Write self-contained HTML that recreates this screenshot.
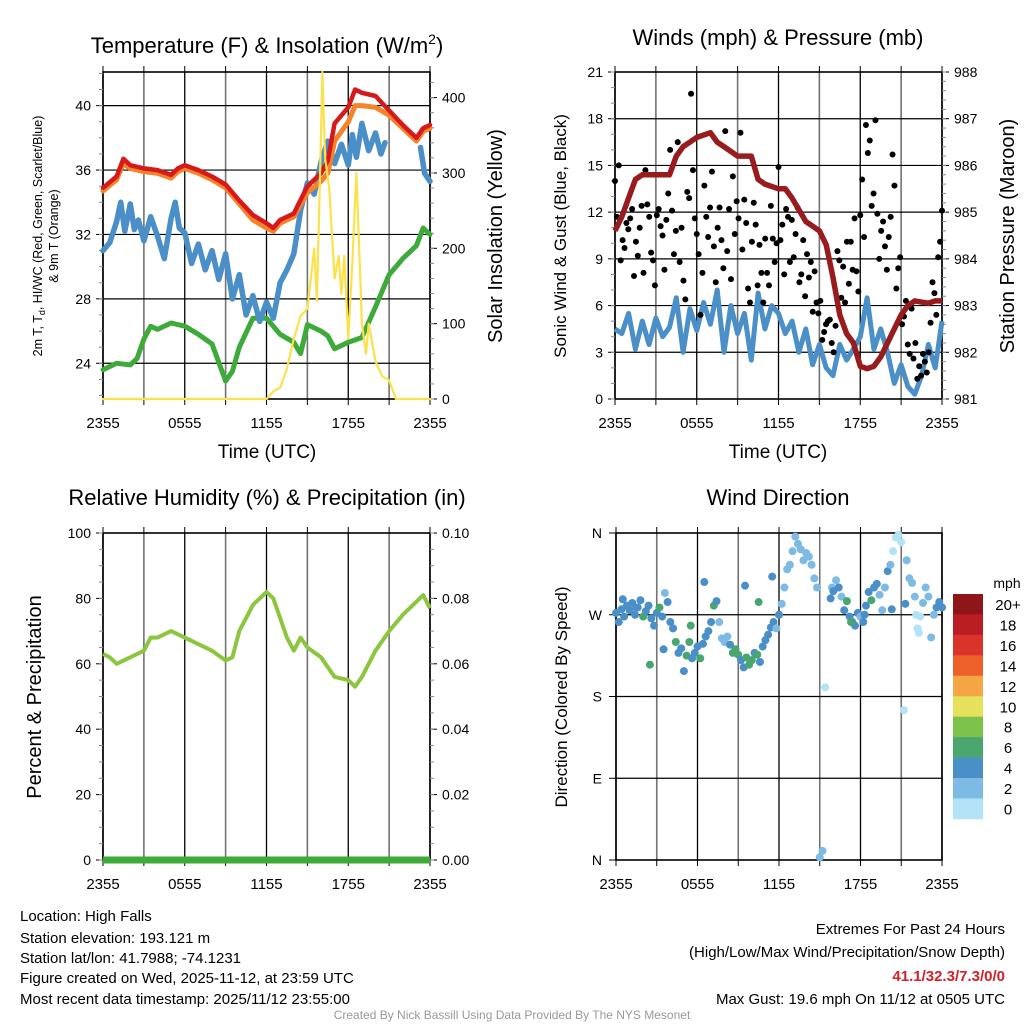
<!DOCTYPE html>
<html><head><meta charset="utf-8"><style>
html,body{margin:0;padding:0;background:#fff;}
svg{display:block;font-family:"Liberation Sans",Arial,sans-serif;}
</style></head><body>
<svg id="c" width="1024" height="1024" viewBox="0 0 1024 1024" xmlns="http://www.w3.org/2000/svg">
<rect width="1024" height="1024" fill="#fff"/>
<g id="g1"></g>
<g id="g2"></g>
<g id="g3"></g>
<g id="g4"></g>
<text x="267" y="53" font-size="22" text-anchor="middle">Temperature (F) &amp; Insolation (W/m<tspan dy="-9" font-size="14">2</tspan><tspan dy="9">)</tspan></text>
<text x="778" y="45" font-size="22" text-anchor="middle">Winds (mph) &amp; Pressure (mb)</text>
<text x="267" y="505" font-size="22" text-anchor="middle">Relative Humidity (%) &amp; Precipitation (in)</text>
<text x="778" y="505" font-size="22" text-anchor="middle">Wind Direction</text>
<text transform="translate(42,236) rotate(-90)" font-size="12.5" text-anchor="middle">2m T, T<tspan dy="3" font-size="9">d</tspan><tspan dy="-3">, HI/WC (Red, Green, Scarlet/Blue)</tspan></text>
<text transform="translate(58,236) rotate(-90)" font-size="12.5" text-anchor="middle">&amp; 9m T (Orange)</text>
<text transform="translate(502,236) rotate(-90)" font-size="20" text-anchor="middle">Solar Insolation (Yellow)</text>
<text transform="translate(566,236) rotate(-90)" font-size="17" text-anchor="middle">Sonic Wind &amp; Gust (Blue, Black)</text>
<text transform="translate(1014,236) rotate(-90)" font-size="20" text-anchor="middle">Station Pressure (Maroon)</text>
<text transform="translate(41,697) rotate(-90)" font-size="20" text-anchor="middle">Percent &amp; Precipitation</text>
<text transform="translate(567,697) rotate(-90)" font-size="17" text-anchor="middle">Direction (Colored By Speed)</text>
<text x="267" y="458" font-size="19" text-anchor="middle">Time (UTC)</text>
<text x="778" y="458" font-size="19" text-anchor="middle">Time (UTC)</text>
<g font-size="15">
<text x="20" y="921">Location: High Falls</text>
<text x="20" y="943">Station elevation: 193.121 m</text>
<text x="20" y="963">Station lat/lon: 41.7988; -74.1231</text>
<text x="20" y="983">Figure created on Wed, 2025-11-12, at 23:59 UTC</text>
<text x="20" y="1004">Most recent data timestamp: 2025/11/12 23:55:00</text>
</g>
<g font-size="15" text-anchor="end">
<text x="1005" y="934">Extremes For Past 24 Hours</text>
<text x="1005" y="957">(High/Low/Max Wind/Precipitation/Snow Depth)</text>
<text x="1005" y="981" fill="#d42027" font-weight="bold">41.1/32.3/7.3/0/0</text>
<text x="1005" y="1004">Max Gust: 19.6 mph On 11/12 at 0505 UTC</text>
</g>
<text x="512" y="1019" font-size="12" fill="#999" text-anchor="middle">Created By Nick Bassill Using Data Provided By The NYS Mesonet</text>
</svg>
<script>
// ---- data ----
const xTickLabels=["2355","0555","1155","1755","2355"];
const tempHours=[0,1,1.5,2,3,4,5,5.5,6,7,8,9,10,11,12,12.5,13,14,15,16,16.5,17,18,18.5,19,20,21,22,23,23.5,24];
const tempRed=[34.9,35.6,36.7,36.3,36.1,36.0,35.7,36.1,36.3,36.0,35.6,35.1,34.1,33.2,32.7,32.4,32.9,33.3,35.0,35.8,36.6,38.9,39.9,41.0,40.8,40.6,39.7,38.8,38.0,38.6,38.8];
const temp9m=[34.7,35.4,36.4,36.1,35.9,35.8,35.5,35.9,36.1,35.8,35.4,34.9,33.9,32.9,32.4,32.2,32.7,33.1,34.6,35.3,35.8,37.8,39.0,40.0,40.0,39.9,39.4,38.6,37.8,38.4,38.6];
const wcHours=[0,0.5,1,1.3,1.6,2,2.3,2.6,3,3.5,4,4.5,5,5.3,5.6,6,6.5,7,7.5,8,8.5,9,9.5,10,10.5,11,11.5,12,12.5,13,13.5,14,14.5,15,15.5,16,16.5,17,17.5,18,18.3,18.6,19,19.5,20,20.4,20.7,null,23.3,23.6,24];
const windChill=[31.0,31.5,32.8,34.0,32.2,33.9,32.3,32.9,31.6,33.1,31.9,30.5,33.0,34.0,32.4,32.1,30.2,31.4,29.8,31.0,29.2,30.8,28.0,29.5,27.0,28.2,26.6,27.8,26.8,29.0,29.8,30.8,33.5,35.2,34.5,36.5,37.8,36.4,37.6,36.3,38.2,36.8,38.9,37.2,38.3,37.0,37.7,null,37.4,35.8,35.3];
const dewHours=[0,1,2,2.5,3,3.5,4,5,6,7,8,9,9.5,10,11,12,12.5,13,14,14.5,15,16,16.5,17,18,19,20,21,22,23,23.5,24];
const dewpoint=[23.6,24.0,23.9,24.3,25.5,26.3,26.1,26.5,26.3,25.8,25.2,22.9,23.5,25.0,26.8,26.8,26.3,25.8,25.3,24.6,26.4,26.0,25.7,24.9,25.3,25.6,27.5,29.5,30.5,31.3,32.4,32.0];
const solarHours=[0,12,12.5,13,13.5,14,14.5,15,15.5,15.7,16,16.1,16.3,16.6,17,17.3,17.5,17.7,18,18.3,18.6,18.8,19,19.3,19.5,20,20.5,21,21.5,24];
const solar=[0,0,10,15,40,80,110,120,200,130,350,434,320,280,160,190,140,190,80,180,300,200,100,60,100,50,30,25,0,0];
const presHours=[0,0.5,1,1.5,2,3,4,4.5,5,5.5,6,7,7.5,8,9,10,10.5,11,12,12.5,13,14,15,15.5,16,16.5,17,17.5,18,18.5,19,19.5,20,20.5,21,21.5,22,23,23.5,24];
const pressure=[984.6,984.9,985.3,985.7,985.8,985.8,985.8,986.2,986.4,986.5,986.6,986.7,986.5,986.4,986.2,986.2,985.7,985.6,985.5,985.5,985.3,984.8,984.6,984.3,983.6,982.8,982.4,982.2,981.7,981.65,981.7,981.9,982.2,982.5,982.8,983.0,983.1,983.05,983.1,983.1];
const windHours=[0,0.5,1,1.5,2,2.5,3,3.5,4,4.5,5,5.5,6,6.5,7,7.5,8,8.5,9,9.5,10,10.5,11,11.5,12,12.5,13,13.5,14,14.5,15,15.5,16,16.5,17,17.5,18,18.5,19,19.5,20,20.5,21,21.5,22,22.5,23,23.5,24];
const windSpeed=[4.5,4.2,5.5,3.2,5.0,3.5,5.2,4.0,4.6,6.5,3.0,5.8,4.4,6.2,4.8,7.0,3.0,6.0,4.2,5.5,2.5,6.8,4.5,6.0,5.5,4.2,5.0,3.0,4.5,2.2,3.5,2.0,1.5,3.5,2.5,3.2,4.0,6.5,3.2,4.5,3.0,1.0,2.2,0.8,0.3,1.5,3.5,2.0,5.0];
// gusts evenly spaced through the 24 h
const gusts=[14,11.7,15,8.9,10.2,9.7,11.3,10.9,11.6,12.2,7.9,10.1,9.2,11,12.4,8.1,14.7,12.5,11.7,9.4,8.9,7.3,11.8,12.2,11.1,10.5,8.3,11.5,13.2,16,12.1,9.3,10.8,16.5,8.8,11,7.6,6.4,13.3,12.9,19.6,14.7,11.6,10.6,9.3,5.4,8.1,13.7,11.7,10.4,12.3,14.6,9.8,7.5,11.0,12.3,10.2,8.4,17.2,9.5,12.2,7.7,14.3,10.6,12.7,11.6,17.1,9.6,12.8,11.3,7.1,6.2,10.1,12.6,11.2,7.3,9.9,8.1,6.2,10.3,8.1,7.3,12.4,10.3,8.8,10.0,14.9,10.2,11.2,8.0,12.2,11.7,8.8,11.5,9.1,10.6,12.3,7.5,8.0,10.2,6.6,9.3,7.8,8.8,5.6,8.2,6.2,5.5,6.3,3.8,4.3,4.8,5.0,5.1,3.6,3.0,4.7,9.5,8.9,6.5,8.5,6.2,10.1,7.4,10.1,8.3,11.6,8.2,6.9,11.8,14.1,10.4,17.6,15.8,16.6,12.4,13.2,17.9,11.9,9.0,10.8,11.4,9.8,8.3,10.4,11.7,15.7,13.7,7.1,8.4,9.1,4.8,5.3,6.3,3.5,2.9,5.8,2.6,3.6,1.3,2.1,1.5,2.9,2.4,1.7,3.0,4.9,7.5,6.8,5.4,9.1,10.1,12.1];
const rhHours=[0,0.5,1,2,3,3.5,4,5,6,7,8,9,9.5,10,11,11.5,12,12.5,13,13.5,14,14.5,15,16,17,18,18.5,19,20,21,22,23,23.5,24];
const humidity=[63,62,60,62,64,68,68,70,68,66,64,61,62,70,78,80,82,80,74,68,64,68,65,62,56,55,53,56,64,70,75,79,81,77];
const precipHours=[0,24];
const precip=[0,0];
const dirHours=[0,0.2,0.4,0.6,0.8,1,1.2,1.4,1.6,1.8,2,2.2,2.4,2.6,2.8,3,3.2,3.4,3.6,3.8,4,4.2,4.4,4.6,4.8,5,5.2,5.4,5.6,5.8,6,6.2,6.4,6.6,6.8,7,7.2,7.4,7.6,7.8,8,8.2,8.4,8.6,8.8,9,9.2,9.4,9.6,9.8,10,10.2,10.4,10.6,10.8,11,11.2,11.4,11.6,11.8,12,12.2,12.4,12.6,12.8,13,13.2,13.4,13.6,13.8,14,14.2,14.4,14.6,14.8,15,15.2,15.4,15.8,15.9,16,16.2,16.4,16.6,16.8,17,17.2,17.4,17.6,17.8,18,18.2,18.4,18.6,18.8,19,19.2,19.4,19.6,19.8,20,20.2,20.4,20.6,20.8,21,21.2,21.4,21.6,21.8,22,22.1,22.2,22.3,22.4,22.6,22.8,23,23.2,23.4,23.6,23.8,24,0.5,1.5,2.5,3.5,5.5,6.5,9.5,10.5,11.5,17.3,18.3,20.3,21.3];
const dirDeg=[272,262,276,268,280,275,283,270,278,286,268,274,280,266,258,272,278,268,294,284,262,255,240,228,233,208,225,240,222,228,235,222,238,246,252,262,280,285,262,244,240,246,237,228,232,226,220,212,223,215,220,228,226,218,235,242,248,256,262,255,270,282,300,320,325,340,356,348,342,330,338,334,325,310,300,3,10,190,288,300,296,308,300,290,275,285,268,262,258,272,268,262,280,295,286,300,304,292,275,300,318,325,340,355,358,350,165,330,310,305,290,270,255,250,268,283,300,290,245,270,278,284,278,287,278,215,232,258,306,302,284,312,262,270,276,282];
const dirSpeed=[4,4,4,4,4,4,4,5,4,4,6,4,4,4,4,4,6,4,2,4,4,4,6,4,5,4,6,6,4,4,4,6,4,5,4,4,6,4,2,2,2,2,4,6,6,6,4,4,7,6,6,4,6,4,4,4,4,4,4,3,4,2,2,2,2,2,2,2,2,2,2,2,2,2,2,2,2,0,4,2,4,2,4,2,4,6,4,4,4,4,2,4,4,4,6,4,4,2,2,2,4,2,0,0,0,0,0,2,2,2,2,0,0,0,0,2,2,2,2,2,4,4,4,4,4,6,4,6,4,4,6,4,6,4,4,4,4,4];
const cbarLabels=["20+","18","16","14","12","10","8","6","4","2","0"];
const cbarColors=["#8e1518","#bb1d24","#da3329","#ee6029","#f5a543","#e6e05c","#7dc24b","#49a66f","#4a8fc7","#7dbae4","#b4e2f7"];

// ---- helpers ----
const NS="http://www.w3.org/2000/svg";
function mk(parent,tag,attrs){const e=document.createElementNS(NS,tag);for(const k in attrs)e.setAttribute(k,attrs[k]);parent.appendChild(e);return e;}
function txt(parent,x,y,s,size,anchor){const t=mk(parent,"text",{x:x,y:y,"font-size":size,"text-anchor":anchor});t.textContent=s;return t;}
function linear(d0,d1,r0,r1){return v=>r0+(v-d0)*(r1-r0)/(d1-d0);}
function pathFrom(xs,ys,sx,sy){let d="",pen=false;for(let i=0;i<xs.length;i++){if(xs[i]===null||ys[i]===null){pen=false;continue;}d+=(pen?"L":"M")+sx(xs[i]).toFixed(1)+","+sy(ys[i]).toFixed(1);pen=true;}return d;}

function frame(g,L,R,T,B,sx,hTicks,sy){
  for(let h=0;h<=24;h+=3){const l=mk(g,"line",{x1:sx(h),x2:sx(h),y1:T,y2:B,stroke:"#000","stroke-width":(h%6===0?1.3:1.6),"stroke-opacity":(h%6===0?1:0.55)});
    
    
    mk(g,"line",{x1:sx(h),x2:sx(h),y1:B,y2:B+6,stroke:"#000","stroke-width":1});
    mk(g,"line",{x1:sx(h),x2:sx(h),y1:T-6,y2:T,stroke:"#000","stroke-width":1});}
  hTicks.forEach(v=>{const l=mk(g,"line",{x1:L,x2:R,y1:sy(v),y2:sy(v),stroke:"#000","stroke-width":1.2});
    
    });
  mk(g,"rect",{x:L,y:T,width:R-L,height:B-T,fill:"none",stroke:"#000","stroke-width":1.6});
  xTickLabels.forEach((s,i)=>{const t=txt(g,sx(i*6),B+29,s,15,"middle");
    
    });
}
function yTicks(g,x,dir,sy,majors,labels,minorStep,lo,hi,lx){
  majors.forEach((v,i)=>{mk(g,"line",{x1:x,x2:x+dir*7,y1:sy(v),y2:sy(v),stroke:"#000","stroke-width":1});
    const t=txt(g,lx,sy(v)+5,labels[i],14,dir<0?"end":"start");
    
    });
  if(minorStep)for(let v=lo;v<=hi+1e-9;v+=minorStep){mk(g,"line",{x1:x,x2:x+dir*4,y1:sy(v),y2:sy(v),stroke:"#888","stroke-width":1});}
}

// ---- panel 1 ----
(function(){
  const g=document.getElementById("g1");const L=103,R=430,T=72,B=399;
  const sx=linear(0,24,L,R), sy=linear(21.78,42.09,B,T), sy2=linear(0,434,B,T);
  frame(g,L,R,T,B,sx,[24,28,32,36,40],sy);
  yTicks(g,L,-1,sy,[24,28,32,36,40],["24","28","32","36","40"],1,22,42,L-12);
  yTicks(g,R,1,sy2,[0,100,200,300,400],["0","100","200","300","400"],20,0,420,R+12);
  const series=[[dewHours,dewpoint,"#3daa3a",5,sy,"dewpoint-line"],[wcHours,windChill,"#4a8fc8",5.5,sy,"wind-chill-line"],[tempHours,temp9m,"#f5832a",5,sy,"temp-9m-line"],[tempHours,tempRed,"#d7191c",4.5,sy,"temp-2m-line"],[solarHours,solar,"#fde14a",2.2,sy2,"solar-line"]];
  series.forEach(s=>{const p=mk(g,"path",{d:pathFrom(s[0],s[1],sx,s[4]),fill:"none",stroke:s[2],"stroke-width":s[3],"stroke-linejoin":"round","stroke-linecap":"round"});
    
    });
})();

// ---- panel 2 ----
(function(){
  const g=document.getElementById("g2");const L=615,R=942,T=72,B=399;
  const sx=linear(0,24,L,R), sy=linear(0,21,B,T), sy2=linear(981,988,B,T);
  frame(g,L,R,T,B,sx,[3,6,9,12,15,18],sy);
  yTicks(g,L,-1,sy,[0,3,6,9,12,15,18,21],["0","3","6","9","12","15","18","21"],1,0,21,L-12);
  yTicks(g,R,1,sy2,[981,982,983,984,985,986,987,988],["981","982","983","984","985","986","987","988"],0.2,981,988,R+12);
  const w=mk(g,"path",{d:pathFrom(windHours,windSpeed,sx,sy),fill:"none",stroke:"#4a8fc8","stroke-width":5,"stroke-linejoin":"round"});
  
  
  const n=gusts.length;
  gusts.forEach((v,i)=>{const c=mk(g,"circle",{cx:sx(i*24/(n-1)),cy:sy(v),r:3,fill:"#000"});
    
    });
  const p=mk(g,"path",{d:pathFrom(presHours,pressure,sx,sy2),fill:"none",stroke:"#981b1e","stroke-width":5.5,"stroke-linejoin":"round"});
  
  
})();

// ---- panel 3 ----
(function(){
  const g=document.getElementById("g3");const L=103,R=430,T=533,B=860;
  const sx=linear(0,24,L,R), sy=linear(0,100,B,T), sy2=linear(0,0.1,B,T);
  frame(g,L,R,T,B,sx,[],sy);
  yTicks(g,L,-1,sy,[0,20,40,60,80,100],["0","20","40","60","80","100"],5,0,100,L-12);
  yTicks(g,R,1,sy2,[0,0.02,0.04,0.06,0.08,0.1],["0.00","0.02","0.04","0.06","0.08","0.10"],0.005,0,0.1,R+12);
  const h=mk(g,"path",{d:pathFrom(rhHours,humidity,sx,sy),fill:"none",stroke:"#8cc63f","stroke-width":4,"stroke-linejoin":"round"});
  
  
  const p=mk(g,"path",{d:pathFrom(precipHours,precip,sx,sy2),fill:"none",stroke:"#3daa3a","stroke-width":7});
  
  
})();

// ---- panel 4 ----
(function(){
  const g=document.getElementById("g4");const L=616,R=942,T=533,B=860;
  const sx=linear(0,24,L,R), sy=linear(0,360,B,T);
  frame(g,L,R,T,B,sx,[90,180,270],sy);
  yTicks(g,L,-1,sy,[0,90,180,270,360],["N","E","S","W","N"],0,0,0,L-14);
  function col(s){const idx=Math.min(10,Math.floor(s/2));return cbarColors[10-idx];}
  const m=Math.min(dirHours.length,dirDeg.length,dirSpeed.length);
  for(let i=0;i<m;i++){const c=mk(g,"circle",{cx:sx(dirHours[i]),cy:sy(dirDeg[i]),r:4,fill:col(dirSpeed[i])});
    
    }
  const cb=mk(g,"g",{});
  
  
  const top=594,bh=20.45;
  cbarColors.forEach((c,i)=>{const r=mk(cb,"rect",{x:953,y:top+i*bh,width:30,height:bh+0.3,fill:c});
    
    
    const t=txt(cb,1008,top+i*bh+16,cbarLabels[i],15,"middle");
    
    });
  const u=txt(cb,1007,588,"mph",14,"middle");
  
  
})();
</script>
</body></html>
